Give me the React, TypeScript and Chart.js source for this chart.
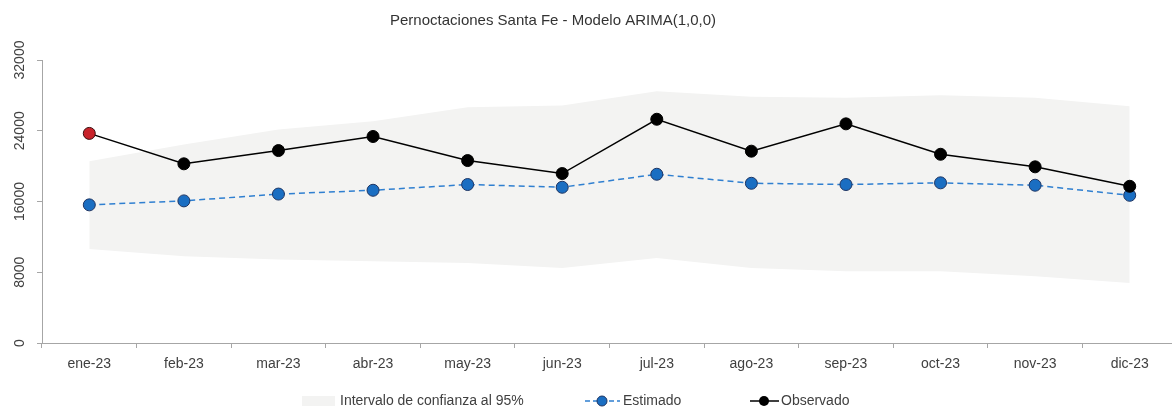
import React, { useEffect, useRef } from "react";
import { Chart, registerables } from "chart.js";

Chart.register(...registerables);

const TITLE = "Pernoctaciones Santa Fe - Modelo ARIMA(1,0,0)";
const categories = ["ene-23", "feb-23", "mar-23", "abr-23", "may-23", "jun-23", "jul-23", "ago-23", "sep-23", "oct-23", "nov-23", "dic-23"];
const observado = [23700, 20260, 21760, 23350, 20630, 19160, 25300, 21690, 24780, 21340, 19920, 17720];
const estimado = [15620, 16070, 16840, 17270, 17920, 17610, 19080, 18060, 17920, 18110, 17840, 16700];
const icUpper = [20550, 22450, 24140, 25080, 26670, 26860, 28480, 27840, 27730, 28020, 27730, 26780];
const icLower = [10640, 9800, 9430, 9240, 9050, 8490, 9620, 8490, 8100, 8100, 7540, 6790];
const yTicks = [0, 8000, 16000, 24000, 32000];
const legendLabels = ["Intervalo de confianza al 95%", "Estimado", "Observado"];

const FONT = '"Liberation Sans", Arial, sans-serif';
const TEXT = "#404040";
const AXIS = "#a6a6a6";
const BAND = "#f3f3f2";
const EST_LINE = "#2f7fd0";
const EST_FILL = "#1a6ec2";
const EST_BORDER = "#1e3563";

const customText = {
  id: "customText",
  afterDraw(chart: any) {
    const ctx = chart.ctx;
    ctx.save();
    ctx.fillStyle = "#333333";
    ctx.font = `15px ${FONT}`;
    ctx.textAlign = "center";
    ctx.textBaseline = "middle";
    ctx.fillText(TITLE, 553, 21);

    const ly = 401;
    ctx.font = `14px ${FONT}`;
    ctx.textAlign = "left";
    // band swatch
    ctx.fillStyle = BAND;
    ctx.fillRect(302, ly - 5, 33, 10);
    ctx.fillStyle = TEXT;
    ctx.fillText(legendLabels[0], 340, ly);
    // estimado
    ctx.strokeStyle = EST_LINE;
    ctx.lineWidth = 1.5;
    ctx.setLineDash([5, 3]);
    ctx.beginPath();
    ctx.moveTo(585, ly);
    ctx.lineTo(620, ly);
    ctx.stroke();
    ctx.setLineDash([]);
    ctx.beginPath();
    ctx.arc(602, ly, 5, 0, Math.PI * 2);
    ctx.fillStyle = EST_FILL;
    ctx.fill();
    ctx.lineWidth = 1;
    ctx.strokeStyle = EST_BORDER;
    ctx.stroke();
    ctx.fillStyle = TEXT;
    ctx.fillText(legendLabels[1], 623, ly);
    // observado
    ctx.strokeStyle = "#000";
    ctx.lineWidth = 1.5;
    ctx.beginPath();
    ctx.moveTo(750, ly);
    ctx.lineTo(779, ly);
    ctx.stroke();
    ctx.beginPath();
    ctx.arc(764, ly, 5, 0, Math.PI * 2);
    ctx.fillStyle = "#000";
    ctx.fill();
    ctx.fillStyle = TEXT;
    ctx.fillText(legendLabels[2], 781, ly);
    ctx.restore();
  },
};

export default function App() {
  const ref = useRef<HTMLCanvasElement | null>(null);
  useEffect(() => {
    if (!ref.current) return;
    const chart = new Chart(ref.current, {
      type: "line",
      data: {
        labels: categories,
        datasets: [
          {
            label: "Observado",
            data: observado,
            borderColor: "#000000",
            borderWidth: 1.5,
            pointRadius: 6,
            pointBackgroundColor: observado.map((_, i) => (i === 0 ? "#c8232a" : "#000000")),
            pointBorderColor: observado.map((_, i) => (i === 0 ? "#3b0f10" : "#000000")),
            pointBorderWidth: 1,
            fill: false,
            tension: 0,
          },
          {
            label: "Estimado",
            data: estimado,
            borderColor: EST_LINE,
            borderWidth: 1.5,
            borderDash: [6, 4],
            pointRadius: 6,
            pointBackgroundColor: EST_FILL,
            pointBorderColor: EST_BORDER,
            pointBorderWidth: 1,
            fill: false,
            tension: 0,
          },
          {
            label: "IC superior",
            data: icUpper,
            borderWidth: 0,
            borderColor: "rgba(0,0,0,0)",
            pointRadius: 0,
            backgroundColor: BAND,
            fill: 3,
            tension: 0,
          },
          {
            label: "IC inferior",
            data: icLower,
            borderWidth: 0,
            borderColor: "rgba(0,0,0,0)",
            pointRadius: 0,
            fill: false,
            tension: 0,
          },
        ],
      },
      options: {
        animation: false,
        responsive: false,
        layout: { padding: { top: 60, right: 2, bottom: 35, left: 0 } },
        plugins: {
          legend: { display: false },
          title: { display: false },
          tooltip: { enabled: false },
        },
        scales: {
          x: {
            offset: true,
            grid: { offset: true, drawOnChartArea: false, drawTicks: true, tickLength: 5, color: AXIS },
            border: { color: AXIS },
            ticks: { font: { family: FONT, size: 14 }, color: TEXT, padding: 8, maxRotation: 0, autoSkip: false },
            afterFit: (s: any) => { s.height = 30; },
          },
          y: {
            min: 0,
            max: 32000,
            grid: { drawOnChartArea: false, drawTicks: true, tickLength: 5, color: AXIS },
            border: { color: AXIS },
            afterBuildTicks: (s: any) => { s.ticks = yTicks.map((v) => ({ value: v })); },
            ticks: {
              stepSize: 8000,
              minRotation: 90,
              maxRotation: 90,
              crossAlign: "center",
              padding: -3,
              font: { family: FONT, size: 14 },
              color: TEXT,
              callback: (v: any) => String(v),
            },
            afterFit: (s: any) => { s.width = 42; },
          },
        },
      },
      plugins: [customText],
    });
    return () => chart.destroy();
  }, []);
  return (
    <div style={{ position: "fixed", left: 0, top: 0, width: 1172, height: 408, overflow: "hidden", background: "#fff" }}>
      <canvas ref={ref} width={1184} height={408} style={{ width: 1184, height: 408, display: "block" }} />
    </div>
  );
}
